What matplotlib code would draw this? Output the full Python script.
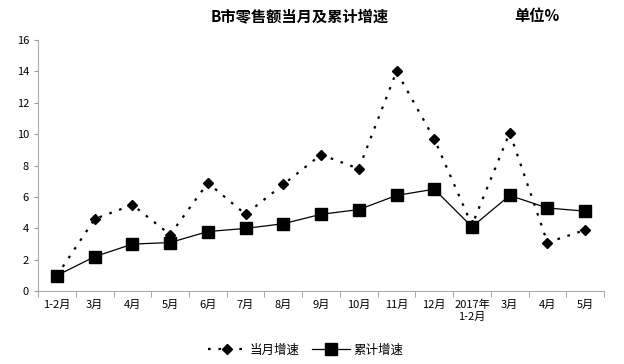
import matplotlib.pyplot as plt
import numpy as np

plt.rcParams['font.family'] = ['Noto Sans CJK SC', 'DejaVu Sans']

# 数据
meses = ['1-2月', '3月', '4月', '5月', '6月', '7月', '8月', '9月', '10月', '11月',
         '12月', '2017年\n1-2月', '3月', '4月', '5月']
dangyue = [1.0, 4.6, 5.5, 3.6, 6.9, 4.9, 6.8, 8.7, 7.8, 14.0, 9.7, 4.2, 10.1, 3.1, 3.9]
leiji = [1.0, 2.2, 3.0, 3.1, 3.8, 4.0, 4.3, 4.9, 5.2, 6.1, 6.5, 4.1, 6.1, 5.3, 5.1]

x = np.arange(len(meses))

fig = plt.figure(figsize=(6.24, 3.64), dpi=100)
ax = fig.add_axes([0.061, 0.20, 0.907, 0.69])

ax.plot(x, dangyue, color='black', linestyle=(0, (1.2, 3.5)), linewidth=1.6,
        marker='D', markersize=5, label='当月增速')
ax.plot(x, leiji, color='black', linestyle='-', linewidth=0.9,
        marker='s', markersize=8, label='累计增速')

ax.set_ylim(0, 16)
ax.set_yticks(range(0, 17, 2))
ax.set_xlim(-0.5, len(meses) - 0.5)
ax.set_xticks(x)
ax.set_xticklabels(meses, fontsize=8)
ax.set_xticks(np.arange(-0.5, len(meses), 1), minor=True)
ax.tick_params(axis='x', which='major', length=0, pad=6)
ax.tick_params(axis='x', which='minor', length=4, color='#999999')
ax.tick_params(axis='y', labelsize=8, length=3, color='#999999')

for s in ['top', 'right']:
    ax.spines[s].set_visible(False)
for s in ['left', 'bottom']:
    ax.spines[s].set_color('#aaaaaa')

fig.text(0.48, 0.955, 'B市零售额当月及累计增速', ha='center', va='center',
         fontsize=11, fontweight='bold')
fig.text(0.86, 0.955, '单位%', ha='center', va='center', fontsize=11, fontweight='bold')

ax.legend(loc='center', bbox_to_anchor=(0.473, -0.235), ncol=2, frameon=False,
          fontsize=9, handlelength=3.0, handletextpad=0.3, columnspacing=1.0,
          borderpad=0.2)

fig.savefig('out.png', dpi=100)
